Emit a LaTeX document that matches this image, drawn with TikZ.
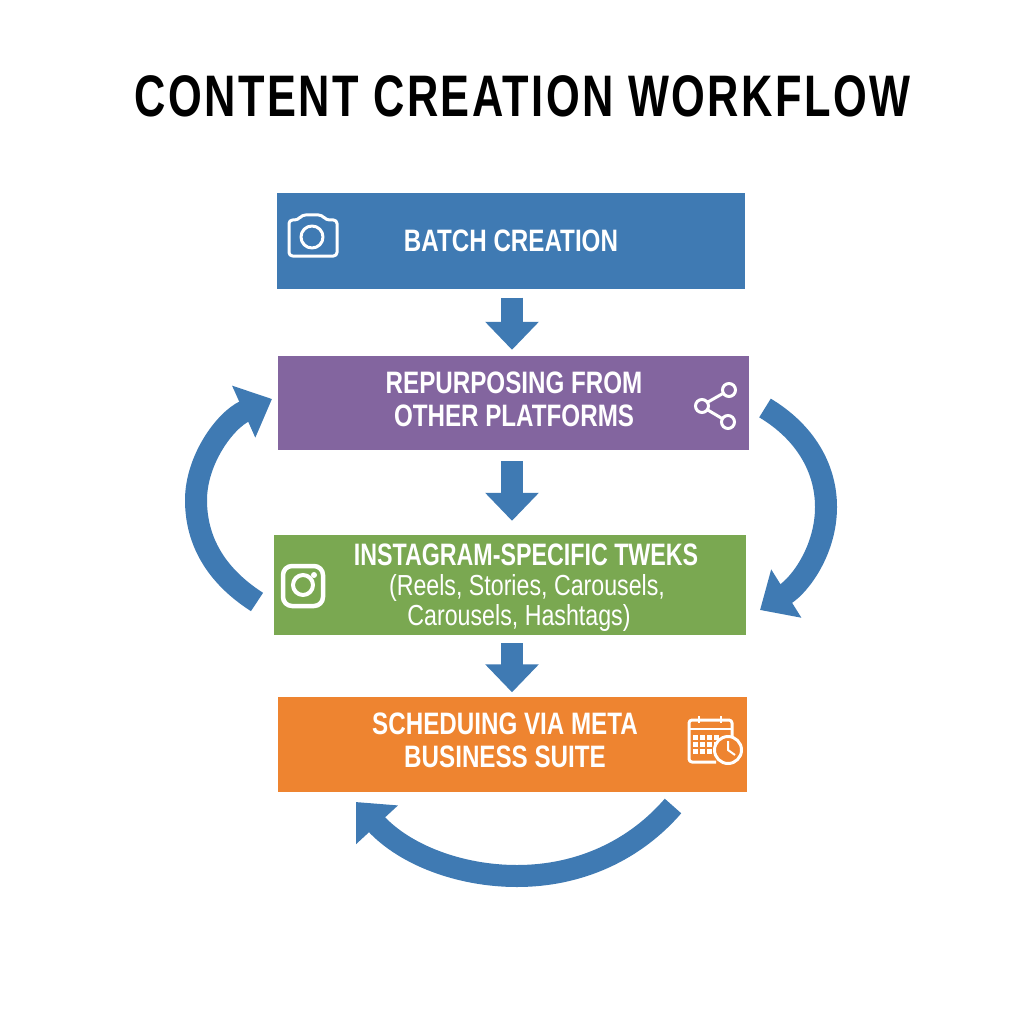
\documentclass[tikz,border=0pt]{standalone}
\usepackage{fontspec}
\setmainfont{Liberation Sans}[FakeStretch=0.78]
\newfontfamily\titlefont{Liberation Sans}[FakeStretch=0.74, LetterSpace=4.2]
\newfontfamily\notefont{Liberation Sans}[FakeStretch=0.80]
\newfontfamily\tweakfont{Liberation Sans}[FakeStretch=0.75]
\usetikzlibrary{arrows.meta, positioning}
\definecolor{flowblue}{HTML}{3F7AB3}
\definecolor{flowpurple}{HTML}{83659F}
\definecolor{flowgreen}{HTML}{7AA851}
\definecolor{floworange}{HTML}{EE8430}
\tikzset{
  flowbox/.style={minimum width=468pt, minimum height=95pt, inner sep=0pt, text=white, align=center},
  boxlabel/.style={text=white, align=center, font=\fontsize{31}{33}\selectfont\bfseries},
  boxnote/.style={text=white, anchor=base, font=\fontsize{29}{33}\selectfont\notefont},
  downarrow/.style={-{Triangle[width=52pt, length=28pt]}, draw=flowblue, line width=22pt},
  looparrow/.style={-{Triangle[width=55pt, length=31pt]}, draw=flowblue, line width=22pt},
  iconline/.style={draw=white, line width=3pt, line join=round}
}
\begin{document}
\begin{tikzpicture}[x=1pt, y=-1pt, every node/.style={inner sep=0pt}]
   \useasboundingbox (0,0) rectangle (1024,1024);
   \node[anchor=base] (title) at (522.5,117) {\fontsize{58.6}{60}\selectfont\titlefont\bfseries CONTENT CREATION WORKFLOW};

   \node[flowbox, fill=flowblue] (batch) at (511,241) {};
   \node[flowbox, fill=flowpurple, minimum width=471pt, minimum height=94pt] (repurpose) at (513,403) {};
   \node[flowbox, fill=flowgreen, minimum width=472pt, minimum height=100pt] (tweaks) at (510,585) {};
   \node[flowbox, fill=floworange, minimum width=469pt] (schedule) at (512,744) {};

   \node[boxlabel] (batchtext) at (511,241) {BATCH CREATION};
   \node[boxlabel] (repurposetext) at (514,399) {REPURPOSING FROM\\OTHER PLATFORMS};
   \node[boxlabel, anchor=base] (tweakstext) at (526,565) {\tweakfont\bfseries INSTAGRAM-SPECIFIC TWEKS};
   \node[boxnote] (tweaksnoteA) at (527,595) {(Reels, Stories, Carousels,};
   \node[boxnote] (tweaksnoteB) at (519,625) {Carousels, Hashtags)};
   \node[boxlabel] (scheduletext) at (505,740) {SCHEDUING VIA META\\BUSINESS SUITE};

   % straight arrows
   \draw[downarrow, shorten <=9pt, shorten >=6pt] (batch.south -| 512,0) -- (repurpose.north -| 512,0);
   \draw[downarrow, shorten <=11pt, shorten >=14pt] (repurpose.south -| 512,0) -- (tweaks.north -| 512,0);
   \draw[downarrow, shorten <=8pt, shorten >=4pt] (tweaks.south -| 512,0) -- (schedule.north -| 512,0);

   % loop arrows
   \coordinate (leftstart) at (257,602);
   \coordinate (leftmid) at (196,500);
   \coordinate (leftend) at (272,399);
   \coordinate (rightstart) at (765,408);
   \coordinate (rightmid) at (826,507);
   \coordinate (rightend) at (760,610);
   \coordinate (bottomstart) at (673,806);
   \coordinate (bottommid) at (517,876);
   \coordinate (bottomend) at (356,802);
   \draw[looparrow] (leftstart) .. controls (215,575) and (196,540) .. (leftmid) .. controls (196,460) and (225,420) .. (leftend);
   \draw[looparrow] (rightstart) .. controls (805,432) and (826,468) .. (rightmid) .. controls (826,550) and (800,585) .. (rightend);
   \draw[looparrow] (bottomstart) .. controls (635,850) and (580,876) .. (bottommid) .. controls (460,876) and (405,855) .. (bottomend);

   % camera icon
   \draw[iconline, rounded corners=3.5pt] (289,220) -- (298,220) -- (302,215) -- (322,215) -- (326,220) -- (337,220) -- (337,256) -- (289,256) -- cycle;
   \draw[iconline] (312,237) circle (11pt);

   % share icon
   \draw[iconline] (729,390) -- (701,406) -- (728,422);
   \node[circle, draw=white, fill=flowpurple, line width=3pt, minimum size=13pt] (shareA) at (729,390) {};
   \node[circle, draw=white, fill=flowpurple, line width=3pt, minimum size=13pt] (shareB) at (702,406) {};
   \node[circle, draw=white, fill=flowpurple, line width=3pt, minimum size=13pt] (shareC) at (728,422) {};

   % instagram icon
   \draw[iconline, line width=4.5pt, rounded corners=9pt] (283,566) rectangle (323,606);
   \draw[iconline, line width=4pt] (303,585) circle (10pt);
   \fill[white] (314,575) circle (3pt);

   % calendar icon
   \draw[iconline, rounded corners=3pt] (716,762) -- (689,762) -- (689,720) -- (732,720) -- (732,738);
   \draw[iconline, line width=2.5pt] (689,729) -- (732,729) (699,716) -- (699,723) (721,716) -- (721,723);
   \foreach \row in {735,742,749} {
     \foreach \col in {693,700,707,714} {
       \fill[white] (\col,\row) rectangle +(5,5);
     }
   }
   \node[circle, draw=white, fill=floworange, line width=3pt, minimum size=27pt] (clock) at (728,750) {};
   \draw[white, line width=2pt] (728,741) -- (728,750) -- (735,755);
\end{tikzpicture}
\end{document}
